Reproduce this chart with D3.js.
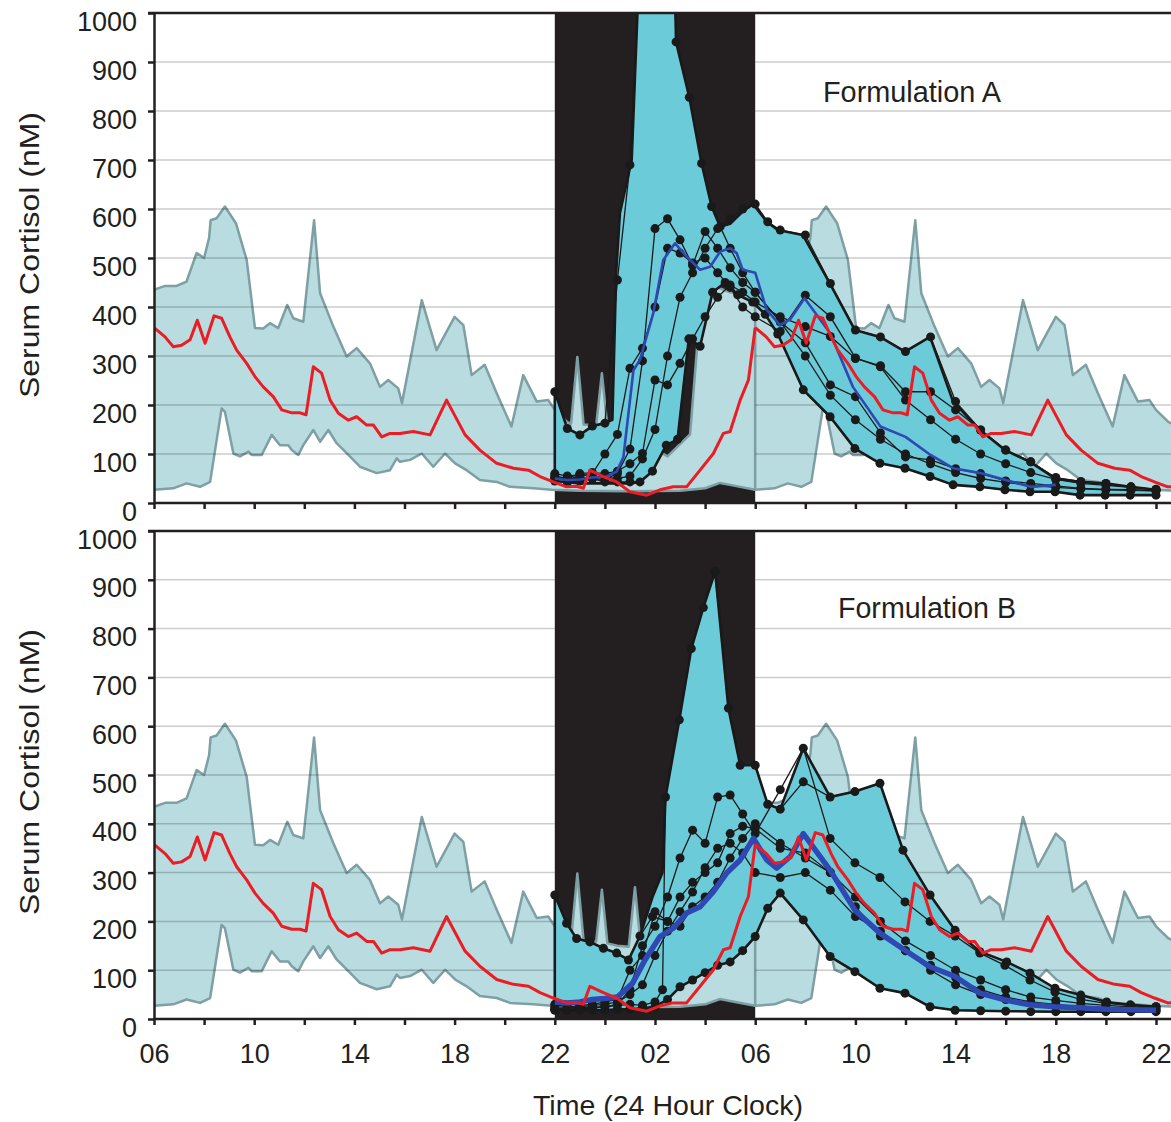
<!DOCTYPE html>
<html lang="en">
<head>
<meta charset="UTF-8">
<title>Serum cortisol profiles</title>
<script src="https://cdn.jsdelivr.net/npm/d3@7"></script>
<style>
    body { margin: 0; background: #fff; }
    svg { display: block; font-family: "Liberation Sans", Arial, sans-serif; }
    .grid { stroke: #000; stroke-opacity: 0.2; stroke-width: 1.5; }
    .axis path, .axis line { stroke: #231f20; stroke-width: 2.5; }
    .axis text { font-family: "Liberation Sans", Arial, sans-serif; font-size: 27px; fill: #231f20; }
    .normBand { fill: #b8dce0; stroke: #7e9fa3; stroke-width: 2.5; stroke-linejoin: round; }
    .studyBand { fill: #6ccbd9; stroke: #1a1a1a; stroke-width: 2.6; stroke-linejoin: round; }
    .patient { fill: none; stroke: #1a1a1a; stroke-width: 1.3; }
    .normMean { fill: none; stroke: #ec1c24; stroke-width: 3; stroke-linejoin: round; }
    .studyMean { fill: none; stroke: #2f48b2; stroke-linejoin: round; }
    .label { font-size: 28px; fill: #231f20; }
</style>
</head>
<body>
<svg id="chart" width="1171" height="1122"></svg>
<script>
// time is hours after 06:00 on day 1
const nightStart = 16, nightEnd = 24;
const dayOffsets = [0, 24];
const xTickLabels = ["06", "10", "14", "18", "22", "02", "06", "10", "14", "18", "22"];
const yTicks = [0, 100, 200, 300, 400, 500, 600, 700, 800, 900, 1000];

// normal volunteers, 24 h profile (repeated for the second day)
const normUpper = [[0,435],[0.44,443],[0.9,443],[1.3,452],[1.7,510],[2.0,500],[2.2,541],[2.26,577],[2.5,581],[2.83,605],[3.27,571],[3.7,496],[4.03,357],[4.36,356],[4.63,367],[4.96,357],[5.32,404],[5.56,377],[5.96,370],[6.39,577],[6.63,428],[7.16,360],[7.69,299],[8.09,316],[8.62,285],[9.02,237],[9.35,251],[9.75,234],[9.9,204],[10.69,414],[11.28,312],[12.0,380],[12.35,363],[12.68,261],[13.2,282],[13.68,224],[14.27,156],[14.74,261],[15.28,207],[15.74,210],[16.0,190],[16.5,165],[16.65,162],[16.9,298],[17.15,160],[17.65,158],[17.88,265],[18.1,155],[18.5,150],[18.95,148],[19.2,270],[19.45,140],[20.0,110],[20.5,95],[21.0,120],[21.4,140],[21.7,330],[22.0,420],[22.5,440],[23.0,430],[23.5,425],[24.0,435]];
const normLower = [[0,27],[0.77,30],[1.3,40],[1.84,33],[2.24,43],[2.7,193],[2.83,186],[3.17,101],[3.43,95],[3.77,105],[3.9,98],[4.3,98],[4.7,139],[5.03,118],[5.36,118],[5.5,108],[5.76,98],[5.96,118],[6.36,149],[6.63,125],[6.96,149],[7.29,122],[7.82,95],[8.22,74],[8.89,61],[9.42,67],[9.69,91],[9.82,84],[10.22,88],[10.69,101],[11.15,74],[11.62,101],[12.02,81],[12.48,67],[13.01,47],[13.68,43],[14.21,33],[15.14,30],[15.87,27],[17,25],[19,24],[21,25],[22,30],[22.6,41],[23.1,36],[24,27]];
const normMean = [[0,358],[0.44,339],[0.77,319],[1.1,322],[1.44,333],[1.73,373],[2.04,326],[2.4,382],[2.7,377],[3.03,339],[3.3,312],[3.7,285],[4.03,258],[4.36,237],[4.76,217],[5.1,190],[5.5,184],[5.83,184],[6.07,180],[6.36,278],[6.69,265],[7.03,210],[7.36,183],[7.76,169],[8.09,176],[8.49,159],[8.76,159],[9.09,135],[9.42,142],[9.82,142],[10.35,146],[11.02,139],[11.68,210],[12.42,139],[13.01,108],[13.68,81],[14.35,71],[14.95,67],[15.41,54],[15.94,43],[16.47,33],[16.87,34],[17.14,30],[17.4,67],[17.94,54],[18.47,43],[19.0,23],[19.67,16],[20.2,27],[20.73,33],[21.26,33],[21.8,67],[22.33,101],[22.73,142],[23.0,146],[23.4,210],[23.73,251],[24.0,358]];

// Formulation A
const bandUpperA = [[16,227],[16.5,152],[17,139],[17.5,157],[18,163],[18.3,170],[18.45,470],[18.6,592],[19.07,700],[19.33,1040],[20.8,1040],[20.84,941],[21.37,828],[21.86,693],[22.26,605],[22.6,564],[23.0,570],[23.5,595],[23.92,610],[24.46,574],[24.9,557],[25.9,547],[26.98,448],[27.98,353],[28.98,339],[29.98,309],[30.98,339],[31.9,207],[32.97,149],[33.97,108],[34.97,84],[35.97,50],[36.97,43],[37.97,40],[38.97,33],[40,27]];
const bandLowerA = [[16,45],[17,40],[18,40],[19,40],[19.4,43],[19.9,65],[20.45,118],[20.9,130],[21.35,335],[21.8,320],[22.3,430],[22.8,450],[23.3,425],[23.9,410],[24.4,385],[24.9,345],[25.92,231],[26.99,176],[27.98,111],[28.98,81],[29.98,71],[30.98,54],[31.9,37],[32.97,33],[33.97,27],[34.97,23],[35.97,23],[36.97,16],[40,16]];
const meanA = [[16,50],[16.5,47],[17,48],[17.5,52],[18.07,54],[18.47,64],[18.74,94],[19.14,271],[19.4,292],[19.93,387],[20.33,496],[20.8,530],[21.26,503],[21.8,476],[22.2,482],[22.6,513],[23.0,520],[23.26,510],[23.5,476],[24.0,470],[24.46,394],[24.99,363],[25.4,375],[25.97,418],[27.0,346],[27.9,237],[29.0,156],[30.0,135],[31.0,98],[31.9,71],[33.0,61],[34.0,47],[35.0,33],[36.0,37]];
const patientsA = [
    [[16,227],[16.5,152],[17,139],[17.5,157],[18,163],[18.5,455],[19,690],[19.33,1040],[20.8,1040],[20.84,941],[21.37,828],[21.86,693],[22.26,605],[22.6,564],[23,520],[23.5,470],[24,430],[25,370],[26,300],[27,220],[28,170],[29,130],[30,100],[31,80],[32,62],[33,50],[34,42],[35,36],[36,32],[37,29],[38,27],[39,26],[40,25]],
    [[16,60],[16.5,55],[17,58],[17.5,55],[18,52],[18.5,50],[19,55],[19.5,90],[20,150],[20.5,300],[21,420],[21.5,470],[22,520],[22.5,560],[23,580],[23.5,600],[24,610],[24.5,574],[25,557],[26,547],[27,448],[28,353],[29,339],[30,309],[31,339],[32,207],[33,149],[34,108],[35,84],[36,50],[37,43],[38,40],[39,33],[40,27]],
    [[16,50],[16.5,48],[17,52],[17.5,50],[18,48],[18.5,60],[19,110],[19.5,290],[20,560],[20.5,580],[21,537],[21.5,485],[22,554],[22.5,520],[23,480],[23.5,450],[24,430],[25,370],[26,327],[27,241],[28,217],[29,143],[30,94],[31,88],[32,70],[33,60],[34,45],[35,40],[36,35],[37,30],[38,28],[39,27],[40,25]],
    [[16,55],[16.5,50],[17,60],[17.5,62],[18,60],[18.5,65],[19,80],[19.5,101],[20,251],[20.5,241],[21,285],[21.5,335],[22,380],[22.5,420],[23,445],[23.5,430],[24,410],[25,380],[26,360],[27,340],[28,295],[29,280],[30,227],[31,227],[32,190],[33,149],[34,108],[35,84],[36,52],[37,44],[38,40],[39,33],[40,27]],
    [[16,45],[16.5,42],[17,45],[17.5,50],[18,43],[18.5,43],[19,43],[19.4,43],[19.9,65],[20.45,118],[20.9,130],[21.35,335],[21.8,320],[22.3,430],[22.8,450],[23.3,425],[23.9,410],[24.4,385],[24.9,345],[25.92,231],[26.99,176],[27.98,111],[28.98,81],[29.98,71],[30.98,54],[31.9,37],[32.97,33],[33.97,27],[34.97,23],[35.97,23],[36.97,16],[37.97,16],[38.97,16],[40,16]],
    [[16,52],[16.5,48],[17,55],[17.5,60],[18,100],[18.5,140],[19,275],[19.5,316],[20,400],[20.5,520],[21,510],[21.5,490],[22,500],[22.5,470],[23,440],[23.5,400],[24,380],[25,350],[26,424],[27,380],[28,296],[29,278],[30,210],[31,170],[32,130],[33,100],[34,80],[35,62],[36,48],[37,40],[38,36],[39,32],[40,28]]
];

// Formulation B
const bandUpperB = [[16,254],[16.47,196],[16.87,165],[17.4,158],[17.94,145],[18.47,135],[18.94,121],[19.4,170],[19.9,250],[20.3,300],[20.42,455],[20.97,613],[21.45,759],[21.93,843],[22.4,917],[22.93,637],[23.4,520],[24,520],[24.5,440],[25,430],[25.92,555],[26.99,455],[27.98,466],[28.98,483],[29.9,346],[30.98,254],[31.98,182],[32.97,138],[34.04,117],[34.97,94],[35.97,63],[37,49],[38.03,35],[38.97,29],[40,25]];
const bandLowerB = [[16,18],[17,18],[18,18],[18.5,20],[19,20],[19.5,22],[20,25],[20.5,40],[21,66],[21.5,80],[22,95],[22.5,110],[23,117],[23.5,140],[24,169],[24.5,227],[25,258],[25.92,203],[26.99,128],[27.98,97],[28.98,63],[29.98,53],[30.98,25],[31.98,18],[33,17],[34,16],[36,15],[40,15]];
const meanB = [[16,35],[16.5,33],[17,35],[17.5,40],[18,42],[18.5,45],[19.1,73],[19.6,121],[20.2,169],[20.73,186],[21.26,217],[21.8,230],[22.33,261],[22.86,299],[23.4,326],[23.93,370],[24.46,326],[24.86,309],[25.4,333],[25.92,380],[26.99,305],[27.98,223],[28.98,176],[29.98,141],[30.98,107],[31.98,87],[32.97,53],[33.97,39],[34.97,29],[35.97,25],[37,23],[38,20],[39,19],[40,18]];
const patientsB = [
    [[16,30],[16.5,25],[17,22],[17.5,25],[18,25],[18.5,28],[19,30],[19.5,28],[20,35],[20.3,60],[20.42,455],[20.97,613],[21.45,759],[21.93,843],[22.4,917],[22.93,637],[23.4,520],[24,520],[24.5,440],[25,430],[25.92,486],[26.99,455],[27.98,466],[28.98,483],[29.9,346],[30.98,254],[31.98,182],[32.97,138],[34.04,117],[34.97,94],[35.97,63],[37,49],[38.03,35],[38.97,29],[40,25]],
    [[16,20],[16.5,20],[17,22],[17.5,22],[18,25],[18.5,30],[19,60],[19.5,150],[20,190],[20.5,250],[21,330],[21.5,387],[22,360],[22.5,455],[23,459],[23.5,420],[24,380],[25,470],[25.92,555],[26.99,370],[27.98,320],[28.98,290],[29.98,240],[30.98,200],[31.98,170],[32.97,135],[33.97,110],[34.97,80],[35.97,55],[37,40],[38,32],[39,28],[40,25]],
    [[16,254],[16.47,196],[16.87,165],[17.4,158],[17.94,145],[18.47,135],[18.94,121],[19.4,170],[19.9,210],[20.5,200],[21,190],[21.5,230],[22,250],[22.5,280],[23,330],[23.5,370],[24,400],[25,360],[26,330],[27,300],[28,250],[29,200],[30,160],[31,130],[32,100],[33,80],[34,60],[35,45],[36,38],[37,32],[38,28],[39,25],[40,22]],
    [[16,18],[16.5,18],[17,18],[17.5,18],[18,18],[18.5,20],[19,20],[19.5,22],[20,25],[20.5,40],[21,66],[21.5,80],[22,95],[22.5,110],[23,117],[23.5,140],[24,169],[24.5,227],[25,258],[25.92,203],[26.99,128],[27.98,97],[28.98,63],[29.98,53],[30.98,25],[31.98,18],[33,17],[34,16],[35,15],[36,15],[37,15],[38,15],[39,15],[40,15]],
    [[16,25],[16.5,24],[17,28],[17.5,30],[18,35],[18.5,40],[19,100],[19.5,130],[20,220],[20.5,200],[21,250],[21.5,280],[22,300],[22.5,320],[23,380],[23.5,395],[24,390],[25,350],[26,340],[27,300],[28,230],[29,170],[30,140],[31,110],[32,85],[33,60],[34,45],[35,35],[36,30],[37,25],[38,22],[39,20],[40,18]],
    [[16,20],[16.5,22],[17,25],[17.5,28],[18,30],[18.5,35],[19,50],[19.5,70],[20,130],[20.5,180],[21,220],[21.5,260],[22,310],[22.5,350],[23,360],[23.5,340],[24,300],[25,290],[26,300],[27,264],[28,210],[29,180],[30,140],[31,100],[32,70],[33,50],[34,40],[35,33],[36,28],[37,25],[38,22],[39,20],[40,18]]
];

const W = 1171;
const svg = d3.select("#chart");
const defs = svg.append("defs");
const x = d3.scaleLinear().domain([0, 40]).range([154, 1156]);

const panels = [
    {id: "A", top: 13, bottom: 503, title: "Formulation A", tx: 823, ty: 102, yTitle: 255,
     upper: bandUpperA, lower: bandLowerA, patients: patientsA, mean: meanA, meanWidth: 2.6, labels: false},
    {id: "B", top: 531, bottom: 1019, title: "Formulation B", tx: 838, ty: 618, yTitle: 772,
     upper: bandUpperB, lower: bandLowerB, patients: patientsB, mean: meanB, meanWidth: 5.5, labels: true}
];

panels.forEach(p => {
    const y = d3.scaleLinear().domain([0, 1000]).range([p.bottom, p.top]);
    const line = d3.line().x(d => x(d[0])).y(d => y(d[1]));

    defs.append("clipPath").attr("id", "clip" + p.id)
        .append("rect")
        .attr("x", x(0)).attr("y", p.top)
        .attr("width", W - x(0)).attr("height", p.bottom - p.top);
    const g = svg.append("g").attr("clip-path", `url(#clip${p.id})`);

    // night
    g.append("rect")
        .attr("x", x(nightStart)).attr("y", p.top)
        .attr("width", x(nightEnd) - x(nightStart))
        .attr("height", p.bottom - p.top)
        .attr("fill", "#231f20");

    // normal range, one copy per day
    dayOffsets.forEach(off => {
        const pts = normUpper.map(d => [d[0] + off, d[1]])
            .concat(normLower.map(d => [d[0] + off, d[1]]).reverse());
        g.append("path").attr("class", "normBand").attr("d", line(pts) + "Z");
    });

    // grid, not drawn over the night block
    yTicks.filter(v => v > 0 && v < 1000).forEach(v => {
        [[x(0), x(nightStart)], [x(nightEnd), W]].forEach(seg => {
            g.append("line").attr("class", "grid")
                .attr("x1", seg[0]).attr("x2", seg[1])
                .attr("y1", y(v)).attr("y2", y(v));
        });
    });

    // study range
    g.append("path").attr("class", "studyBand")
        .attr("d", line(p.upper.concat(p.lower.slice().reverse())) + "Z");

    // individual patients
    p.patients.forEach(pt => {
        g.append("path").attr("class", "patient").attr("d", line(pt));
        g.selectAll(null)
            .data(pt.filter(d => d[1] <= 1000))
            .enter().append("circle")
            .attr("cx", d => x(d[0])).attr("cy", d => y(d[1]))
            .attr("r", 4.5).attr("fill", "#1a1a1a");
    });

    // study mean
    g.append("path").attr("class", "studyMean")
        .attr("stroke-width", p.meanWidth)
        .attr("d", line(p.mean));

    // normal mean
    dayOffsets.forEach(off => {
        g.append("path").attr("class", "normMean")
            .attr("d", line(normMean.map(d => [d[0] + off, d[1]])));
    });

    // frame and axes
    svg.append("line")
        .attr("x1", x(0) - 6).attr("x2", W)
        .attr("y1", p.top).attr("y2", p.top)
        .attr("stroke", "#231f20").attr("stroke-width", 2.5);

    const yAxis = svg.append("g").attr("class", "axis")
        .attr("transform", `translate(${x(0)},0)`)
        .call(d3.axisLeft(y).tickValues(yTicks).tickSize(6).tickSizeOuter(0).tickFormat(d3.format("d")));
    yAxis.selectAll("text").attr("x", -17).attr("dy", null).attr("y", 17);

    const xAxis = svg.append("g").attr("class", "axis")
        .attr("transform", `translate(0,${p.bottom})`)
        .call(d3.axisBottom(x).tickValues(d3.range(0, 41, 2)).tickSize(6).tickSizeOuter(0)
            .tickFormat(h => (p.labels && h % 4 === 0) ? xTickLabels[h / 4] : ""));
    xAxis.select(".domain").attr("d", `M${x(0)},0H${W}`);
    xAxis.selectAll("text").attr("y", 44).attr("dy", null);

    svg.append("text").attr("class", "label")
        .attr("x", p.tx).attr("y", p.ty)
        .attr("textLength", 178).attr("lengthAdjust", "spacingAndGlyphs")
        .style("font-size", "30px")
        .text(p.title);

    svg.append("text").attr("class", "label")
        .attr("transform", `translate(39,${p.yTitle}) rotate(-90)`)
        .attr("text-anchor", "middle")
        .attr("textLength", 286).attr("lengthAdjust", "spacingAndGlyphs")
        .text("Serum Cortisol (nM)");
});

svg.append("text").attr("class", "label")
    .attr("x", 533).attr("y", 1115)
    .attr("textLength", 270).attr("lengthAdjust", "spacingAndGlyphs")
    .text("Time (24 Hour Clock)");
</script>
</body>
</html>
